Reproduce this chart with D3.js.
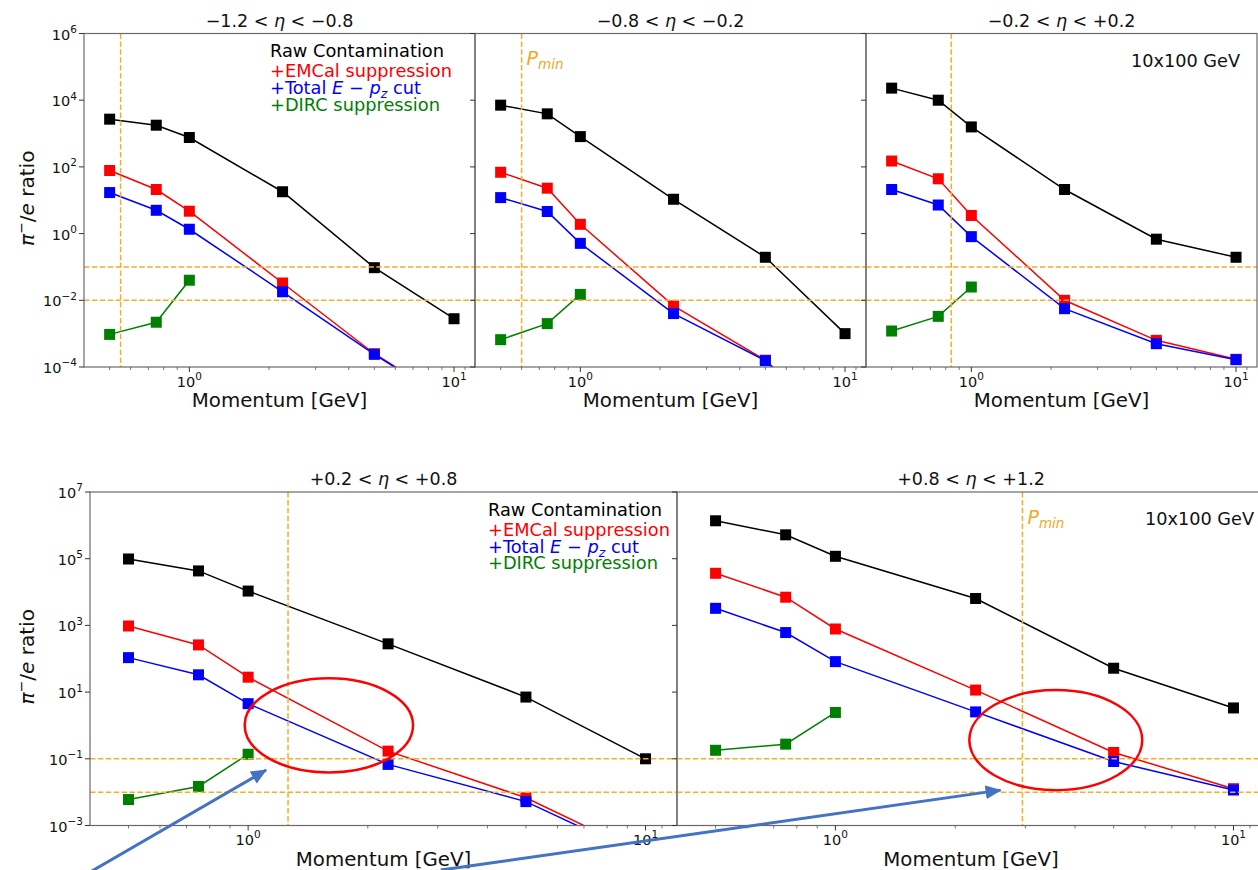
<!DOCTYPE html>
<html>
<head>
<meta charset="utf-8">
<script src="https://cdn.jsdelivr.net/npm/d3@7"></script>
<style>
  html, body { margin: 0; padding: 0; background: #fff; }
  svg { display: block; font-family: "DejaVu Sans", sans-serif; }
</style>
</head>
<body>
<svg id="fig" width="1258" height="870"></svg>
<script>
// ---- data -------------------------------------------------------------
const momentum = [0.5, 0.75, 1.0, 2.25, 5, 10];      // GeV
const dircMomentum = [0.5, 0.75, 1.0];               // DIRC points only up to 1 GeV

const etaLow  = ["\u22121.2", "\u22120.8", "\u22120.2", "+0.2", "+0.8"];
const etaHigh = ["\u22120.8", "\u22120.2", "+0.2", "+0.8", "+1.2"];

const rawContamination = [
  [2700, 1780, 760, 18, 0.095, 0.0028],
  [7100, 3900, 810, 10.7, 0.195, 0.001],
  [23000, 10000, 1580, 21, 0.68, 0.195],
  [98000, 43000, 10700, 280, 7.1, 0.1],
  [1.37e6, 5.2e5, 1.18e5, 6400, 52, 3.35]
];
const emcalSuppression = [
  [78, 21, 4.7, 0.033, 2.5e-4, 8e-6],
  [69, 23, 1.9, 0.0068, 1.6e-4, 1e-6],
  [150, 44, 3.5, 0.01, 6.3e-4, 1.7e-4],
  [960, 260, 28, 0.17, 0.0068, 1.3e-4],
  [36500, 7000, 780, 11.5, 0.155, 0.0127]
];
const totalEpzCut = [
  [17, 5.0, 1.35, 0.018, 2.4e-4, 7.5e-6],
  [12, 4.6, 0.51, 0.004, 1.55e-4, 1e-6],
  [21, 7.2, 0.81, 0.0056, 5e-4, 1.66e-4],
  [108, 33, 4.5, 0.068, 0.0052, 1.1e-4],
  [3250, 610, 82, 2.55, 0.083, 0.0116]
];
const dircSuppression = [
  [0.00095, 0.0022, 0.04],
  [6.6e-4, 0.002, 0.015],
  [0.0012, 0.0033, 0.025],
  [0.006, 0.0148, 0.137],
  [0.18, 0.275, 2.45]
];

const pMin = [0.55, 0.6, 0.84, 1.26, 2.95];
const purityLevels = [0.1, 0.01];
const beamLabel = "10x100 GeV";

const xMajorTicks = [1, 10];
const xMinorTicks = [0.5, 0.6, 0.7, 0.8, 0.9, 2, 3, 4, 5, 6, 7, 8, 9, 11];
const yTicksTop = [1e-4, 1e-2, 1, 1e2, 1e4, 1e6];
const yTicksBottom = [1e-3, 1e-1, 1e1, 1e3, 1e5, 1e7];

const seriesNames = ["Raw Contamination", "+EMCal suppression", "+Total E\u2212pz cut", "+DIRC suppression"];
const seriesColors = ["black", "red", "blue", "green"];

// circled regions and pointer arrows (data coordinates of the given panel)
const circledRegions = [
  { panel: 3, x: [0.98, 2.6], y: [0.039, 26] },
  { panel: 4, x: [2.17, 5.9], y: [0.0115, 11.5] }
];
const pointerArrows = [
  { panel: 3, from: [0.40, 4.0e-5], to: [1.11, 0.046] },
  { panel: 4, from: [0.102, 4.6e-5], to: [2.6, 0.0115] }
];

// ---- layout -----------------------------------------------------------
const rows = {
  top:    { y0: 33.5, y1: 367,   domain: [1e-4, 1e6], ticks: yTicksTop },
  bottom: { y0: 492,  y1: 825.5, domain: [1e-3, 1e7], ticks: yTicksBottom }
};
const panels = [
  { x0: 84,  x1: 475,  row: "top",    first: true,  legendX: 270, beamRight: null },
  { x0: 475, x1: 866,  row: "top",    first: false, legendX: null, beamRight: null, pminLabel: true },
  { x0: 866, x1: 1257, row: "top",    first: false, legendX: null, beamRight: 1240 },
  { x0: 90,  x1: 677,  row: "bottom", first: true,  legendX: 488, beamRight: null },
  { x0: 677, x1: 1265, row: "bottom", first: false, legendX: null, beamRight: 1254, pminLabel: true }
];
const xDomain = [0.4, 12];

const svg = d3.select("#fig");
const defs = svg.append("defs");
const spineColor = "#6a6a6a";
const dashColor = "#f7ad2a";

function powLabel(sel, v, size, supSize) {
  const e = Math.round(Math.log10(v));
  sel.append("tspan").text("10");
  sel.append("tspan").attr("font-size", supSize).attr("dy", -size * 0.45)
    .text(e < 0 ? "\u2212" + (-e) : String(e));
}

const scales = [];

panels.forEach((p, i) => {
  const row = rows[p.row];
  const x = d3.scaleLog().domain(xDomain).range([p.x0, p.x1]);
  const y = d3.scaleLog().domain(row.domain).range([row.y1, row.y0]);
  scales.push({ x, y });

  const g = svg.append("g").attr("class", "panel-" + i);
  const clipId = "clip" + i;
  defs.append("clipPath").attr("id", clipId)
    .append("rect").attr("x", p.x0).attr("y", row.y0)
    .attr("width", p.x1 - p.x0).attr("height", row.y1 - row.y0);

  const plot = g.append("g").attr("clip-path", `url(#${clipId})`);

  // series lines + square markers
  const line = d3.line().x(d => x(d[0])).y(d => y(d[1]));
  const series = [
    momentum.map((m, k) => [m, rawContamination[i][k]]),
    momentum.map((m, k) => [m, emcalSuppression[i][k]]),
    momentum.map((m, k) => [m, totalEpzCut[i][k]]),
    dircMomentum.map((m, k) => [m, dircSuppression[i][k]])
  ];
  series.forEach((pts, s) => {
    plot.append("path").attr("d", line(pts)).attr("fill", "none")
      .attr("stroke", seriesColors[s]).attr("stroke-width", 1.5);
    plot.selectAll(null).data(pts).enter().append("rect")
      .attr("x", d => x(d[0]) - 5.5).attr("y", d => y(d[1]) - 5.5)
      .attr("width", 11).attr("height", 11)
      .attr("fill", seriesColors[s]);
  });

  // reference levels and minimum momentum
  purityLevels.forEach(v => {
    plot.append("line").attr("x1", p.x0).attr("x2", p.x1)
      .attr("y1", y(v)).attr("y2", y(v))
      .attr("stroke", dashColor).attr("stroke-width", 1.5)
      .attr("stroke-dasharray", "5.5,2.4");
  });
  plot.append("line").attr("x1", x(pMin[i])).attr("x2", x(pMin[i]))
    .attr("y1", row.y0).attr("y2", row.y1)
    .attr("stroke", dashColor).attr("stroke-width", 1.5)
    .attr("stroke-dasharray", "5.5,2.4");

  if (p.pminLabel) {
    const t = g.append("text").attr("x", x(pMin[i]) + 5).attr("y", row.y0 + 31.5)
      .attr("fill", "#f5a623").attr("font-size", 19);
    t.append("tspan").attr("font-style", "italic").text("P");
    t.append("tspan").attr("font-style", "italic").attr("font-size", 13.5).attr("dy", 4).text("min");
  }

  if (p.beamRight) {
    g.append("text").attr("x", p.beamRight).attr("y", row.y0 + 33)
      .attr("text-anchor", "end").attr("font-size", 17.7).attr("fill", "#111")
      .text(beamLabel);
  }

  // frame
  g.append("rect").attr("x", p.x0).attr("y", row.y0)
    .attr("width", p.x1 - p.x0).attr("height", row.y1 - row.y0)
    .attr("fill", "none").attr("stroke", spineColor).attr("stroke-width", 1.2);

  // y ticks (outward), labels only on the first panel of each row
  row.ticks.forEach(v => {
    g.append("line").attr("x1", p.x0 - 5).attr("x2", p.x0)
      .attr("y1", y(v)).attr("y2", y(v)).attr("stroke", "#333").attr("stroke-width", 1);
    if (p.first) {
      const t = g.append("text").attr("x", p.x0 - 7).attr("y", y(v) + 6)
        .attr("text-anchor", "end").attr("font-size", 14.5).attr("fill", "#111");
      powLabel(t, v, 14.5, 10.5);
    }
  });

  // x ticks
  xMajorTicks.forEach(v => {
    g.append("line").attr("x1", x(v)).attr("x2", x(v))
      .attr("y1", row.y1).attr("y2", row.y1 + 5).attr("stroke", "#333").attr("stroke-width", 1);
    const t = g.append("text").attr("x", x(v)).attr("y", row.y1 + 19.5)
      .attr("text-anchor", "middle").attr("font-size", 14.5).attr("fill", "#111");
    powLabel(t, v, 14.5, 10.5);
  });
  xMinorTicks.filter(v => v > xDomain[0] && v < xDomain[1]).forEach(v => {
    g.append("line").attr("x1", x(v)).attr("x2", x(v))
      .attr("y1", row.y1).attr("y2", row.y1 + 3).attr("stroke", "#555").attr("stroke-width", 0.8);
  });

  // title
  const cx = (p.x0 + p.x1) / 2;
  const title = g.append("text").attr("x", cx).attr("y", row.y0 - 7)
    .attr("text-anchor", "middle").attr("font-size", 17.5).attr("fill", "#111");
  title.append("tspan").text(etaLow[i] + " < ");
  title.append("tspan").attr("font-style", "italic").text("\u03b7");
  title.append("tspan").text(" < " + etaHigh[i]);

  // x label
  g.append("text").attr("x", cx).attr("y", row.y1 + 40)
    .attr("text-anchor", "middle").attr("font-size", 19.8).attr("fill", "#111")
    .text("Momentum [GeV]");

  // y label
  if (p.first) {
    const ly = (row.y0 + row.y1) / 2 - 2;
    const lx = 34;
    const t = g.append("text").attr("transform", `translate(${lx},${ly}) rotate(-90)`)
      .attr("text-anchor", "middle").attr("font-size", 20).attr("fill", "#111");
    t.append("tspan").attr("font-style", "italic").text("\u03c0");
    t.append("tspan").attr("font-size", 14).attr("dy", -8).text("\u2212");
    t.append("tspan").attr("dy", 8).text("/");
    t.append("tspan").attr("font-style", "italic").text("e");
    t.append("tspan").text(" ratio");
  }

  // legend
  if (p.legendX) {
    const baselines = [23.5, 43.5, 60.5, 77].map(d => row.y0 + d);
    seriesNames.forEach((name, s) => {
      const t = g.append("text").attr("x", p.legendX).attr("y", baselines[s])
        .attr("font-size", 17.8).attr("fill", seriesColors[s]);
      if (s === 2) {
        t.append("tspan").text("+Total ");
        t.append("tspan").attr("font-style", "italic").text("E");
        t.append("tspan").text(" \u2212 ");
        t.append("tspan").attr("font-style", "italic").text("p");
        t.append("tspan").attr("font-style", "italic").attr("font-size", 12.5).attr("dy", 4).text("z");
        t.append("tspan").attr("dy", -4).text(" cut");
      } else {
        t.text(name);
      }
    });
  }
});

// ---- callouts -----------------------------------------------------------
const callouts = svg.append("g").attr("class", "callouts");
defs.append("marker").attr("id", "arrowHead")
  .attr("markerUnits", "userSpaceOnUse")
  .attr("viewBox", "0 0 16 14").attr("refX", 15).attr("refY", 7)
  .attr("markerWidth", 16).attr("markerHeight", 14).attr("orient", "auto")
  .append("path").attr("d", "M0,0 L16,7 L0,14 Z").attr("fill", "#4472c4");

pointerArrows.forEach(a => {
  const s = scales[a.panel];
  callouts.append("line")
    .attr("x1", s.x(a.from[0])).attr("y1", s.y(a.from[1]))
    .attr("x2", s.x(a.to[0])).attr("y2", s.y(a.to[1]))
    .attr("stroke", "#4472c4").attr("stroke-width", 3)
    .attr("marker-end", "url(#arrowHead)");
});

circledRegions.forEach(c => {
  const s = scales[c.panel];
  const xa = s.x(c.x[0]), xb = s.x(c.x[1]);
  const ya = s.y(c.y[0]), yb = s.y(c.y[1]);
  callouts.append("ellipse")
    .attr("cx", (xa + xb) / 2).attr("cy", (ya + yb) / 2)
    .attr("rx", Math.abs(xb - xa) / 2).attr("ry", Math.abs(yb - ya) / 2)
    .attr("fill", "none").attr("stroke", "#ff0000").attr("stroke-width", 2.5);
});
</script>
</body>
</html>
